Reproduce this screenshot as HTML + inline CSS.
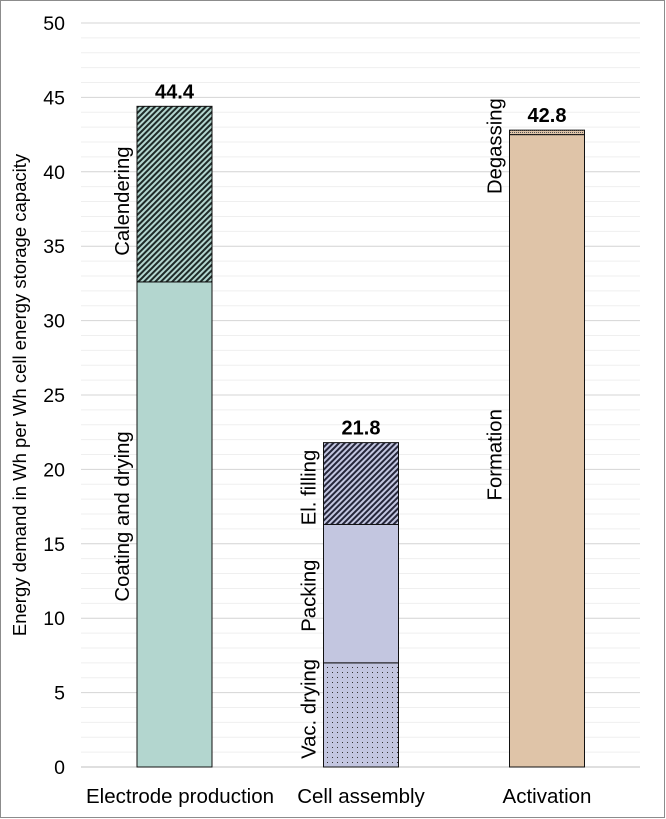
<!DOCTYPE html>
<html><head><meta charset="utf-8"><style>
html,body{margin:0;padding:0;background:#fff;}
svg{display:block;font-family:"Liberation Sans",Arial,sans-serif;}
</style></head><body>
<svg id="chart" width="666" height="819" viewBox="0 0 666 819">
<defs>
<pattern id="hatchCal" patternUnits="userSpaceOnUse" width="4" height="4" patternTransform="rotate(45)">
<rect width="4" height="4" fill="#b3d6cf"/><rect width="2" height="4" fill="#1e2a28"/></pattern>
<pattern id="hatchFill" patternUnits="userSpaceOnUse" width="4" height="4" patternTransform="rotate(45)">
<rect width="4" height="4" fill="#c3c6e0"/><rect width="2" height="4" fill="#25263a"/></pattern>
<pattern id="dots" patternUnits="userSpaceOnUse" width="5" height="5">
<rect width="5" height="5" fill="#c3c6e0"/><rect x="2" y="2" width="1" height="1" fill="#333"/></pattern>
<pattern id="dotsDeg" patternUnits="userSpaceOnUse" width="2" height="2">
<rect width="2" height="2" fill="#dfc4a8"/><rect width="1" height="1" fill="#555"/></pattern>
</defs>
<rect x="0.5" y="0.5" width="664" height="817" fill="#fff" stroke="#8c8c8c"/>
<g id="grid"></g>
<g id="bars"></g>
<g id="labels"></g>
<text transform="translate(26,395) rotate(-90)" text-anchor="middle" font-size="18.5" fill="#000">Energy demand in Wh per Wh cell energy storage capacity</text>
</svg>
<script>
const categories = ["Electrode production","Cell assembly","Activation"];
const segNames = [["Coating and drying","Calendering"],["Vac. drying","Packing","El. filling"],["Formation","Degassing"]];
const segValues = [[32.6,11.8],[7.0,9.3,5.5],[42.5,0.3]];
const totals = ["44.4","21.8","42.8"];
const yTicks = [0,5,10,15,20,25,30,35,40,45,50];
const fills = [["#b3d6cf","url(#hatchCal)"],["url(#dots)","#c3c6e0","url(#hatchFill)"],["#dfc4a8","url(#dotsDeg)"]];
const labelShift = [[-8,7],[-6,2,4],[4,16]];
const NS="http://www.w3.org/2000/svg";
const y0=767, y50=23, xL=81, xR=640;
const y = v => y0 - (v/50)*(y0-y50);
const barW=75, centers=[174.5,361,547], catLabelX=[180,361,547];
const x = i => centers[i];
function mk(tag,attrs,parent,text){const e=document.createElementNS(NS,tag);for(const k in attrs)e.setAttribute(k,attrs[k]);if(text!==undefined)e.textContent=text;parent.appendChild(e);return e;}
const grid=document.getElementById('grid'), bars=document.getElementById('bars'), labels=document.getElementById('labels');
for(let v=1;v<50;v++){ if(v%5===0) continue;
  const l=mk('line',{x1:xL,x2:xR,y1:y(v),y2:y(v),stroke:'#efefef','stroke-width':1},grid);
  
  
}
yTicks.forEach(v=>{
  const l=mk('line',{x1:xL,x2:xR,y1:y(v),y2:y(v),stroke:v===0?'#bfbfbf':'#d4d4d4','stroke-width':1},grid);
  
  
  const t=mk('text',{x:65,y:y(v)+7,'text-anchor':'end','font-size':19.5,fill:'#000'},labels,String(v));
  
  
});
categories.forEach((c,i)=>{
  let acc=0;
  segValues[i].forEach((v,j)=>{
    const top=y(acc+v), bot=y(acc);
    const r=mk('rect',{x:x(i)-barW/2,y:top,width:barW,height:bot-top,fill:fills[i][j],stroke:'#111','stroke-width':1},bars);
    
    
    const mid = (segNames[i][j]==="Degassing" ? top : (top+bot)/2) + labelShift[i][j];
    const t=mk('text',{transform:`translate(${x(i)-barW/2-8},${mid}) rotate(-90)`,'text-anchor':'middle','font-size':20.3,fill:'#000'},labels,segNames[i][j]);
    
    
    acc+=v;
  });
  const tl=mk('text',{x:x(i),y:y(acc)-8,'text-anchor':'middle','font-size':20,'font-weight':'bold',fill:'#000'},labels,totals[i]);
  
  
  const cl=mk('text',{x:catLabelX[i],y:803,'text-anchor':'middle','font-size':20.5,fill:'#000'},labels,c);
  
  
});
</script>
</body></html>
